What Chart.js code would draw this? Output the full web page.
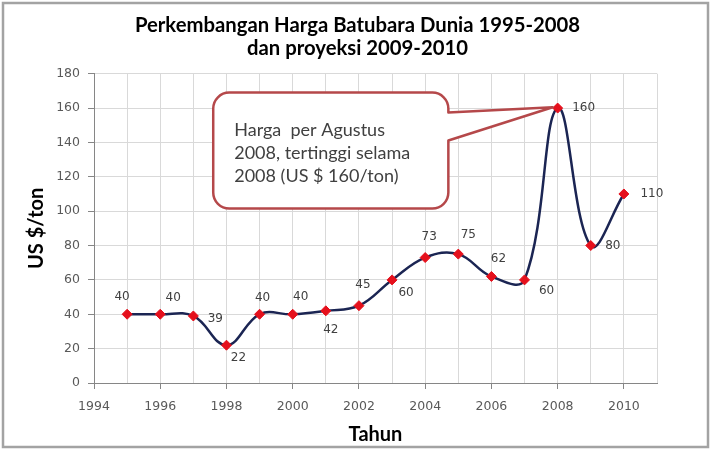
<!DOCTYPE html>
<html><head><meta charset="utf-8">
<script src="https://cdn.jsdelivr.net/npm/chart.js@4/dist/chart.umd.min.js"></script>
<style>html,body{margin:0;padding:0;background:#fff}#wrap{width:715px;height:450px;position:relative}</style>
</head><body><div id="wrap"><canvas id="c" width="715" height="450"></canvas></div>
<script>
// ---- data ----
const years = [1995,1996,1997,1998,1999,2000,2001,2002,2003,2004,2005,2006,2007,2008,2009,2010];
const prices = [40,40,39,22,40,40,42,45,60,73,75,62,60,160,80,110];
const xTickLabels = [1994,1996,1998,2000,2002,2004,2006,2008,2010];
const yTickValues = [0,20,40,60,80,100,120,140,160,180];
const titleLines = ['Perkembangan Harga Batubara Dunia 1995-2008','dan proyeksi 2009-2010'];
const xAxisTitle = 'Tahun';
const yAxisTitle = 'US $/ton';
const calloutLines = ['Harga  per Agustus','2008, tertinggi selama','2008 (US $ 160/ton)'];

// ---- layout (label offsets in px, callout in data units) ----
const labelOffsets = [[-5,-17],[13,-16],[22,3],[12,13],[3,-16],[8,-17],[5,19],[4,-21],[14,13],[4,-21],[10,-19],[7,-18],[22,11],[26,0],[22,0],[28,0]];
const callout = {x1:1997.6, x2:2004.7, yTop:169, yBottom:101.5, wedgeTop:157.4, wedgeBottom:141.1, tipX:2007.85, tipY:160.5};

const borderPlugin = {
  id:'frame',
  afterDraw(chart){
    const ctx = chart.ctx;
    ctx.save();
    ctx.strokeStyle = '#a3a3a3';
    ctx.lineWidth = 2.5;
    ctx.strokeRect(3,3,705,444);
    ctx.restore();
  }
};

const calloutPlugin = {
  id:'callout',
  afterDatasetsDraw(chart){
    const ctx = chart.ctx, xs = chart.scales.x, ys = chart.scales.y;
    const l = xs.getPixelForValue(callout.x1), r = xs.getPixelForValue(callout.x2);
    const t = ys.getPixelForValue(callout.yTop), b = ys.getPixelForValue(callout.yBottom);
    const w1 = ys.getPixelForValue(callout.wedgeTop), w2 = ys.getPixelForValue(callout.wedgeBottom);
    const tx = xs.getPixelForValue(callout.tipX), ty = ys.getPixelForValue(callout.tipY);
    const rad = 16;
    ctx.save();
    ctx.beginPath();
    ctx.moveTo(l+rad, t);
    ctx.lineTo(r-rad, t);
    ctx.arcTo(r, t, r, t+rad, rad);
    ctx.lineTo(r, w1);
    ctx.lineTo(tx, ty);
    ctx.lineTo(r, w2);
    ctx.lineTo(r, b-rad);
    ctx.arcTo(r, b, r-rad, b, rad);
    ctx.lineTo(l+rad, b);
    ctx.arcTo(l, b, l, b-rad, rad);
    ctx.lineTo(l, t+rad);
    ctx.arcTo(l, t, l+rad, t, rad);
    ctx.closePath();
    ctx.fillStyle = '#ffffff';
    ctx.fill();
    ctx.strokeStyle = '#b5484a';
    ctx.lineWidth = 2.5;
    ctx.lineJoin = 'round';
    ctx.stroke();
    ctx.fillStyle = '#404040';
    ctx.font = '18px Lato';
    ctx.textAlign = 'left';
    ctx.textBaseline = 'middle';
    calloutLines.forEach((s,i)=>ctx.fillText(s, l+21, t+38+i*23));
    ctx.restore();
  }
};

const labelPlugin = {
  id:'pointLabels',
  afterDatasetsDraw(chart){
    const ctx = chart.ctx;
    const meta = chart.getDatasetMeta(0);
    ctx.save();
    ctx.font = '12px "DejaVu Sans"';
    ctx.fillStyle = '#404040';
    ctx.textAlign = 'center';
    ctx.textBaseline = 'middle';
    meta.data.forEach((p,i)=>{
      const o = labelOffsets[i] || [0,-16];
      ctx.fillText(String(prices[i]), p.x+o[0], p.y+o[1]);
    });
    ctx.restore();
  }
};

new Chart(document.getElementById('c'), {
  type:'line',
  data:{
    datasets:[{
      data: years.map((y,i)=>({x:y, y:prices[i]})),
      borderColor:'#1b2553',
      borderWidth:2.5,
      tension:0.4,
      pointStyle:'rectRot',
      pointRadius:5,
      pointBackgroundColor:'#e5101c',
      pointBorderColor:'#e5101c',
      pointBorderWidth:1,
      clip:false
    }]
  },
  options:{
    responsive:false,
    animation:false,
    devicePixelRatio:1,
    layout:{padding:{left:0,right:0,top:0,bottom:0}},
    plugins:{
      legend:{display:false},
      tooltip:{enabled:false},
      title:{
        display:true,
        text:titleLines,
        color:'#000',
        font:{family:'Lato',weight:'bold',size:20.3,lineHeight:1.15},
        padding:{top:13.5,bottom:13.5}
      }
    },
    scales:{
      x:{
        type:'linear',
        min:1994, max:2011,
        afterFit(s){ s.height = 67; },
        afterBuildTicks(s){ const t=[]; for(let v=1994; v<=2011; v++) t.push({value:v}); s.ticks=t; },
        ticks:{
          autoSkip:false, maxRotation:0,
          callback:v=> xTickLabels.includes(v) ? String(v) : '',
          color:'#595959',
          font:{family:'DejaVu Sans',size:12.5},
          padding:10
        },
        grid:{
          color:'#d9d9d9',
          lineWidth:1,
          tickLength:6,
          tickColor:c=> (c.tick && xTickLabels.includes(c.tick.value)) ? '#868686' : 'rgba(0,0,0,0)'
        },
        border:{color:'#868686',width:1},
        title:{display:true,text:xAxisTitle,color:'#000',font:{family:'Lato',weight:'bold',size:20,lineHeight:1.2},padding:{top:0,bottom:3}}
      },
      y:{
        min:0, max:180,
        afterFit(s){ s.width = 94; },
        afterBuildTicks(s){ s.ticks = yTickValues.map(v=>({value:v})); },
        ticks:{
          color:'#595959',
          font:{family:'DejaVu Sans',size:12.5},
          padding:8
        },
        grid:{color:'#d9d9d9',lineWidth:1,tickLength:6,tickColor:'#868686'},
        border:{color:'#868686',width:1},
        title:{display:true,text:yAxisTitle,color:'#000',font:{family:'Lato',weight:'bold',size:20,lineHeight:1.2},padding:{top:25,bottom:0}}
      },
      yRight:{
        position:'right',
        min:0, max:180,
        afterFit(s){ s.width = 58; },
        ticks:{display:false},
        grid:{drawOnChartArea:false,drawTicks:false},
        border:{display:false}
      }
    }
  },
  plugins:[calloutPlugin,labelPlugin,borderPlugin]
});
</script>
</body></html>
